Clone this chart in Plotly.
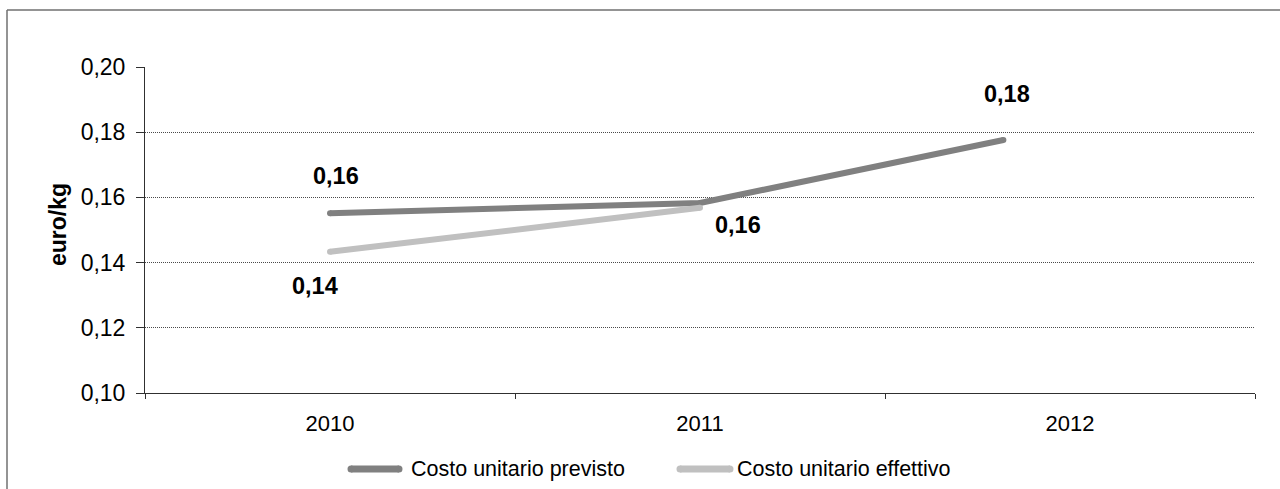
import plotly.graph_objects as go

# ---- data -------------------------------------------------------------
years = ["2010", "2011", "2012"]
costo_previsto = [0.1551, 0.1583, 0.1776]
costo_effettivo = [0.1433, 0.1568, None]

# horizontal placement of each point along the year axis
point_pos = [0, 1, 1.82]

# ---- geometry / style -------------------------------------------------
W, H = 1280, 489
M_L, M_R, M_T, M_B = 145, 25, 67, 96
PLOT_W = W - M_L - M_R
PLOT_H = H - M_T - M_B


def px_x(px):
    return (px - M_L) / PLOT_W


def px_y(py):
    return (H - M_B - py) / PLOT_H


FONT = "Liberation Sans, Arial, sans-serif"
AXIS_C = "#303030"
series = [
    ("Costo unitario previsto", costo_previsto, "#808080"),
    ("Costo unitario effettivo", costo_effettivo, "#C0C0C0"),
]
# data-label offsets (pixels) for the points that carry a value label
label_offsets = {
    (0, 0): (6, 37),
    (0, 2): (4, 46),
    (1, 0): (-15, -34),
    (1, 1): (38, -17),
}
# legend entries: line start/end and text start (pixels), baseline y
legend_items = [(351, 399, 409), (680, 730, 735)]
LEGEND_Y = 469

fig = go.Figure()
for name, vals, color in series:
    xs = [p for p, v in zip(point_pos, vals) if v is not None]
    ys = [v for v in vals if v is not None]
    fig.add_trace(go.Scatter(
        x=xs, y=ys, mode="lines+markers", name=name,
        line=dict(color=color, width=6),
        marker=dict(color=color, size=6),
        showlegend=False, hoverinfo="y",
    ))

# value labels
for (si, pi), (dx, dy) in label_offsets.items():
    v = series[si][1][pi]
    fig.add_annotation(
        x=point_pos[pi], y=v, xref="x", yref="y",
        text="<b>" + f"{v:.2f}".replace(".", ",") + "</b>",
        showarrow=False, xshift=dx, yshift=dy,
        font=dict(family=FONT, size=23.5, color="black"),
    )

# y-axis title
fig.add_annotation(
    x=px_x(43), y=px_y(225), xref="paper", yref="paper",
    text="<b>euro/kg</b>", textangle=-90, showarrow=False,
    font=dict(family=FONT, size=23, color="black"),
)

# legend drawn as line samples + text
for (x0, x1, xt), (name, _, color) in zip(legend_items, series):
    fig.add_shape(type="line", xref="paper", yref="paper",
                  x0=px_x(x0), x1=px_x(x1), y0=px_y(LEGEND_Y), y1=px_y(LEGEND_Y),
                  line=dict(color=color, width=7))
    for xe in (x0, x1):
        fig.add_shape(type="circle", xref="paper", yref="paper",
                      x0=px_x(xe - 3.5), x1=px_x(xe + 3.5),
                      y0=px_y(LEGEND_Y + 3.5), y1=px_y(LEGEND_Y - 3.5),
                      line=dict(width=0), fillcolor=color)
    fig.add_annotation(
        x=px_x(xt), y=px_y(LEGEND_Y), xref="paper", yref="paper",
        text=name, showarrow=False, xanchor="left", yanchor="middle",
        font=dict(family=FONT, size=21.5, color="black"),
    )

# outer chart frame (top and left edges)
fig.add_shape(type="line", xref="paper", yref="paper",
              x0=px_x(7), x1=px_x(W + 5), y0=px_y(10), y1=px_y(10),
              line=dict(color="#707070", width=1.5))
fig.add_shape(type="line", xref="paper", yref="paper",
              x0=px_x(7), x1=px_x(7), y0=px_y(10), y1=px_y(H + 5),
              line=dict(color="#707070", width=1.5))

boundaries = [i - 0.5 for i in range(len(years) + 1)]

fig.update_layout(
    width=W, height=H,
    margin=dict(l=M_L, r=M_R, t=M_T, b=M_B),
    paper_bgcolor="white", plot_bgcolor="white",
    separators=",.",
    font=dict(family=FONT, color="black"),
    showlegend=False,
    xaxis=dict(
        range=[boundaries[0], boundaries[-1]],
        tickmode="array", tickvals=list(range(len(years))), ticktext=years,
        ticks="", showgrid=False, zeroline=False,
        showline=True, linecolor=AXIS_C, linewidth=1,
        minor=dict(tickmode="array", tickvals=boundaries, ticks="outside",
                   ticklen=5, tickcolor=AXIS_C, tickwidth=1, showgrid=False),
        tickfont=dict(family=FONT, size=22, color="black"),
        ticklabelstandoff=11,
    ),
    yaxis=dict(
        range=[0.10, 0.20], tick0=0.10, dtick=0.02, tickformat=".2f",
        showgrid=True, gridcolor="#4a4a4a", gridwidth=1, griddash="1px,1px",
        zeroline=False, showline=True, linecolor=AXIS_C, linewidth=1,
        ticks="outside", ticklen=8, tickcolor=AXIS_C, tickwidth=1,
        tickfont=dict(family=FONT, size=23, color="black"),
        ticklabelstandoff=6,
    ),
)

fig.write_html("out.html")
